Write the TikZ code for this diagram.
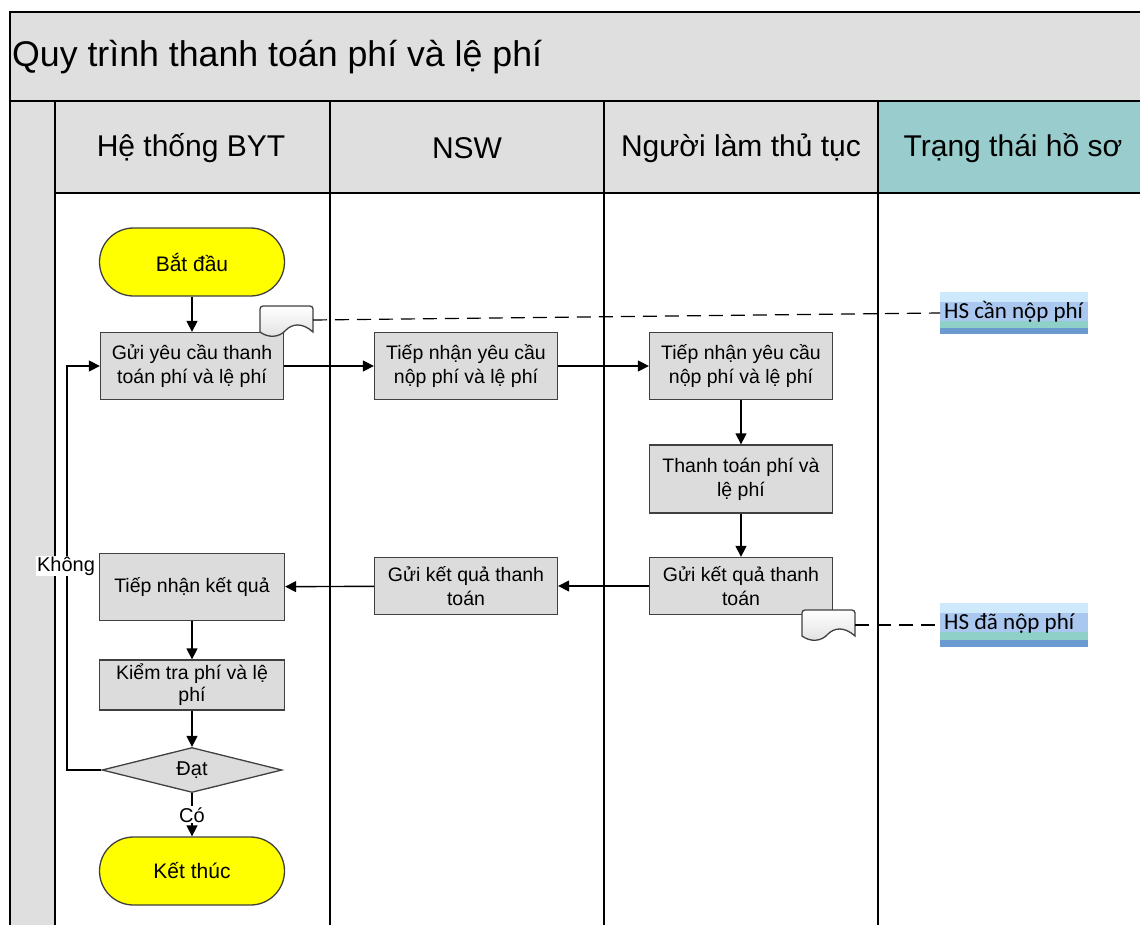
\documentclass[tikz,border=0pt]{standalone}
\usepackage{fontspec}
\setmainfont{Liberation Sans}
\newfontfamily\hsfont{Carlito}
\usetikzlibrary{shapes.geometric,arrows.meta}
\definecolor{bandgrey}{HTML}{DFDFDF}
\definecolor{boxgrey}{HTML}{DCDCDC}
\definecolor{boxline}{HTML}{404040}
\definecolor{teal}{HTML}{99CCCC}
\definecolor{termyellow}{HTML}{FFFF00}
\definecolor{hsA}{HTML}{CDE9FB}
\definecolor{hsB}{HTML}{A9C7EF}
\definecolor{hsC}{HTML}{8FD0C8}
\definecolor{hsD}{HTML}{6A9AD0}
\tikzset{
  lane/.style={line width=2pt, draw=black},
  procbox/.style={draw=boxline, line width=1.3pt, fill=boxgrey, minimum width=183pt, align=center, inner sep=2pt, font=\fontsize{19.5}{24}\selectfont},
  termbox/.style={draw=boxline, line width=1.3pt, fill=termyellow, minimum width=185pt, minimum height=68pt, rounded corners=34pt, font=\fontsize{21}{25}\selectfont},
  decbox/.style={draw=boxline, line width=1.3pt, fill=boxgrey, shape=diamond, aspect=4, minimum width=180pt, minimum height=45pt, inner sep=0pt, font=\fontsize{20}{24}\selectfont},
  flow/.style={line width=1.4pt, draw=black, -{Triangle[length=11pt,width=11pt]}},
  dashlink/.style={line width=1.2pt, dash pattern=on 14pt off 8pt},
  docshape/.style={draw=boxline, line width=1.3pt, top color=white, bottom color=black!12},
  hdr/.style={font=\fontsize{30}{35}\selectfont},
  smalllbl/.style={fill=white, inner sep=1pt, font=\fontsize{20}{24}\selectfont},
  hstext/.style={anchor=west, inner sep=0pt, font=\hsfont\fontsize{23}{27}\selectfont}
}
\begin{document}
\begin{tikzpicture}[x=1pt,y=-1pt]
\useasboundingbox (0,0) rectangle (1140,925);
% background bands
\fill[bandgrey] (10,12) rectangle (1140,101);
\fill[bandgrey] (10,101) rectangle (55,925);
\fill[bandgrey] (55,101) rectangle (878,193);
\fill[teal] (878,101) rectangle (1140,193);
% frame and lanes
\draw[lane] (1140,12) -- (10,12) -- (10,925);
\draw[lane] (10,101) -- (1140,101);
\draw[lane] (55,193) -- (1140,193);
\foreach \xx in {55,330,604,878} \draw[lane] (\xx,101) -- (\xx,925);
% titles
\node[anchor=west, inner sep=0pt, font=\fontsize{35.7}{40}\selectfont] (title) at (12,57) {Quy trình thanh toán phí và lệ phí};
\node[hdr] (h1) at (191,148) {Hệ thống BYT};
\node[hdr] (h2) at (467,148) {NSW};
\node[hdr] (h3) at (741,148) {Người làm thủ tục};
\node[hdr] (h4) at (1013,148) {Trạng thái hồ sơ};
% nodes
\node[termbox] (start) at (192,262) {Bắt đầu};
\node[procbox, minimum height=67pt] (gui) at (192,366) {Gửi yêu cầu thanh\\toán phí và lệ phí};
\node[procbox, minimum height=67pt] (tnNSW) at (466,366) {Tiếp nhận yêu cầu\\nộp phí và lệ phí};
\node[procbox, minimum height=67pt] (tnNL) at (741,366) {Tiếp nhận yêu cầu\\nộp phí và lệ phí};
\node[procbox, minimum height=68pt] (tt) at (741,479) {Thanh toán phí và\\lệ phí};
\node[procbox, minimum height=57pt] (gkNL) at (741,586) {Gửi kết quả thanh\\toán};
\node[procbox, minimum height=57pt] (gkNSW) at (466,586) {Gửi kết quả thanh\\toán};
\node[procbox, minimum height=67pt, minimum width=185pt] (tnkq) at (192,587) {Tiếp nhận kết quả};
\node[procbox, minimum height=50pt, minimum width=185pt, font=\fontsize{19.5}{22}\selectfont] (kt) at (192,685) {Kiểm tra phí và lệ\\phí};
\node[decbox] (dat) at (192,770) {Đạt};
\node[termbox] (end) at (192,871) {Kết thúc};
% document shapes
\draw[docshape] (260,332) [rounded corners=3pt] -- (260,306) -- (313,306) [sharp corners] -- (313,332)
  .. controls (302,322) and (292,324) .. (286,330) .. controls (279,338) and (268,338) .. (260,332) -- cycle;
\coordinate (doc1) at (313,320);
\draw[docshape] (802,636) [rounded corners=3pt] -- (802,610) -- (855,610) [sharp corners] -- (855,636)
  .. controls (844,626) and (834,628) .. (828,634) .. controls (821,642) and (810,642) .. (802,636) -- cycle;
\coordinate (doc2) at (855,625);
% status labels
\fill[hsA] (940,292) rectangle (1088,302);
\fill[hsB] (940,302) rectangle (1088,321);
\fill[hsC] (940,321) rectangle (1088,328);
\fill[hsD] (940,328) rectangle (1088,334);
\node[hstext] (hs1) at (944,312) {HS cần nộp phí};
\coordinate (hs1w) at (940,313);
\fill[hsA] (940,603) rectangle (1088,613);
\fill[hsB] (940,613) rectangle (1088,632);
\fill[hsC] (940,632) rectangle (1088,640);
\fill[hsD] (940,640) rectangle (1088,647);
\node[hstext] (hs2) at (944,623) {HS đã nộp phí};
\coordinate (hs2w) at (940,625);
% connectors
\draw[flow] (start) -- (gui);
\draw[flow] (gui) -- (tnNSW);
\draw[flow] (tnNSW) -- (tnNL);
\draw[flow] (tnNL) -- (tt);
\draw[flow] (tt) -- (gkNL);
\draw[flow] (gkNL) -- (gkNSW);
\draw[flow] (gkNSW) -- (tnkq);
\draw[flow] (tnkq) -- (kt);
\draw[flow] (kt) -- (dat);
\draw[flow] (dat) -- node[smalllbl] {Có} (end);
\draw[flow] (dat.west) -- (67,770) -- (67,366) -- (gui.west);
\node[smalllbl] (khong) at (66,566) {Không};
\draw[dashlink] (doc1) -- (hs1w);
\draw[dashlink] (doc2) -- (hs2w);
\end{tikzpicture}
\end{document}
